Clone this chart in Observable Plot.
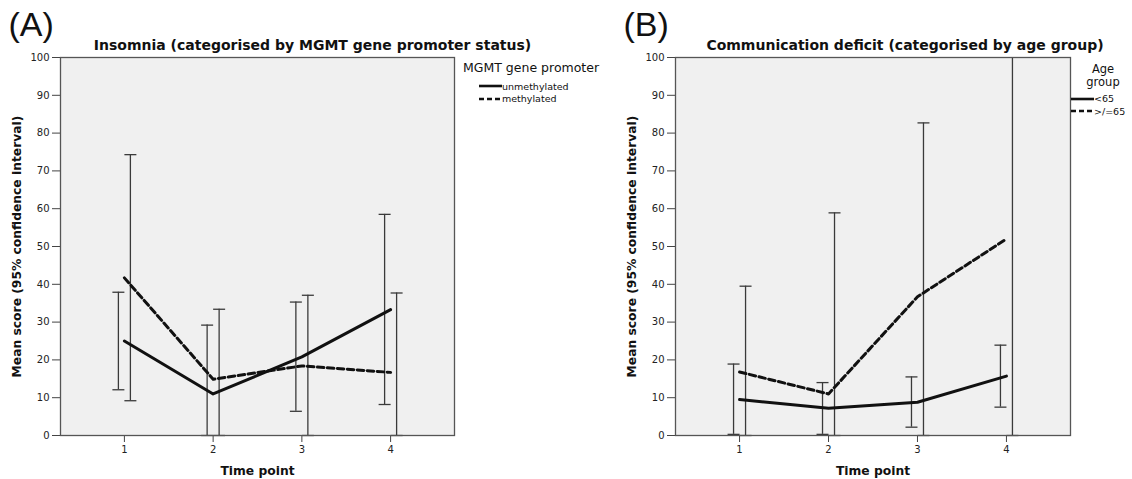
<!DOCTYPE html>
<html><head><meta charset="utf-8">
<script src="https://cdn.jsdelivr.net/npm/d3@7"></script>
<script src="https://cdn.jsdelivr.net/npm/@observablehq/plot@0.6"></script>
<style>
body{margin:0;background:#fff;}
#wrap{position:relative;width:1132px;height:479px;overflow:hidden;font-family:"DejaVu Sans",sans-serif;color:#111;}
#wrap svg{position:absolute;top:0;overflow:visible;background:transparent;}
.lg{position:absolute;white-space:nowrap;line-height:1;}
</style></head><body><div id="wrap"></div>
<script>
// ---------- data ----------
const timePoints = [1, 2, 3, 4];
const yTicks = [0, 10, 20, 30, 40, 50, 60, 70, 80, 90, 100];

// Panel A: Insomnia by MGMT gene promoter status
const aSeries = ["unmethylated", "methylated"];
const aUnmethMean = [25.0, 11.0, 20.8, 33.3];
const aUnmethLow  = [12.1, 0, 6.4, 8.2];
const aUnmethHigh = [37.9, 29.2, 35.3, 58.5];
const aMethMean   = [41.7, 14.9, 18.4, 16.7];
const aMethLow    = [9.2, 0, 0, 0];
const aMethHigh   = [74.3, 33.4, 37.1, 37.7];

// Panel B: Communication deficit by age group
const bSeries = ["<65", ">/=65"];
const bYoungMean = [9.5, 7.2, 8.8, 15.7];
const bYoungLow  = [0.3, 0.3, 2.2, 7.5];
const bYoungHigh = [18.9, 14.0, 15.5, 23.9];
const bOldMean   = [16.8, 11.0, 36.7, 52.0];
const bOldLow    = [0, 0, 0, 0];
const bOldHigh   = [39.5, 58.9, 82.7, 100]; // t4 runs off the top of the axis

const titleA = "Insomnia (categorised by MGMT gene promoter status)";
const titleB = "Communication deficit (categorised by age group)";
const yLabel = "Mean score (95% confidence interval)";
const xLabel = "Time point";

// ---------- helpers ----------
function rows(series, idx, means, lows, highs) {
  return timePoints.map((t, i) => ({series, idx, t, mean: means[i], lo: lows[i], hi: highs[i]}));
}
const capSymbol = {
  draw(ctx, size) { const w = Math.sqrt(size / Math.PI); ctx.moveTo(-w, 0); ctx.lineTo(w, 0); }
};
const BAR = "#3a3a3a";
const DASH = "6.5,3.5";

function panel({data, letter, title, titleDx, marginLeft, marginRight}) {
  const marks = [Plot.frame({fill: "#f0f0f0"})];
  for (const k of [0, 1]) {
    const d = data.filter(r => r.idx === k);
    const dx = k === 0 ? -6 : 6;
    marks.push(Plot.ruleX(d, {x: "t", y1: "lo", y2: "hi", dx, stroke: BAR, strokeWidth: 1.3, clip: true}));
    marks.push(Plot.dot(d.filter(r => r.hi < 100), {x: "t", y: "hi", dx, symbol: capSymbol, r: 6, stroke: BAR, strokeWidth: 1.3, fill: "none"}));
    marks.push(Plot.dot(d, {x: "t", y: "lo", dx, symbol: capSymbol, r: 6, stroke: BAR, strokeWidth: 1.3, fill: "none"}));
  }
  for (const k of [0, 1]) {
    const d = data.filter(r => r.idx === k);
    marks.push(Plot.line(d, {x: "t", y: "mean", stroke: "#111", strokeWidth: 3, strokeDasharray: k === 0 ? null : DASH}));
  }
  marks.push(
    Plot.axisY(yTicks, {tickSize: 8, tickPadding: 3, fontSize: 10, stroke: "#444", fill: "#222", label: null}),
    Plot.axisX(timePoints, {tickSize: 7, tickPadding: 3, fontSize: 10, stroke: "#444", fill: "#222", label: null, tickFormat: d => String(d)}),
    Plot.frame({stroke: "#555", strokeWidth: 1.3}),
    Plot.text([title], {text: d => d, frameAnchor: "top", lineAnchor: "middle", dx: titleDx, dy: -12, fontWeight: "bold", fontSize: 14, fill: "#111"}),
    Plot.text([letter], {text: d => d, frameAnchor: "top-left", textAnchor: "start", lineAnchor: "middle", dx: -52, dy: -32, fontSize: 34, fontFamily: "Liberation Sans", fill: "#111"}),
    Plot.text([yLabel], {text: d => d, frameAnchor: "left", textAnchor: "middle", lineAnchor: "middle", dx: -43, rotate: -90, fontWeight: "bold", fontSize: 12.3, fill: "#111"}),
    Plot.text([xLabel], {text: d => d, frameAnchor: "bottom", lineAnchor: "middle", dy: 36, fontWeight: "bold", fontSize: 12.3, fill: "#111"})
  );
  return Plot.plot({
    width: 566, height: 479,
    marginLeft, marginRight, marginTop: 57, marginBottom: 44,
    style: {fontFamily: "DejaVu Sans", background: "transparent", overflow: "visible"},
    x: {type: "linear", domain: [0.28, 4.72]},
    y: {domain: [0, 100]},
    marks
  });
}

const dataA = [
  ...rows(aSeries[0], 0, aUnmethMean, aUnmethLow, aUnmethHigh),
  ...rows(aSeries[1], 1, aMethMean, aMethLow, aMethHigh)
];
const dataB = [
  ...rows(bSeries[0], 0, bYoungMean, bYoungLow, bYoungHigh),
  ...rows(bSeries[1], 1, bOldMean, bOldLow, bOldHigh)
];

const wrap = document.getElementById("wrap");
const pA = panel({data: dataA, letter: "(A)", title: titleA, titleDx: 55, marginLeft: 60, marginRight: 112});
pA.style.left = "0px";
const pB = panel({data: dataB, letter: "(B)", title: titleB, titleDx: 32, marginLeft: 109, marginRight: 62});
pB.style.left = "566px";
wrap.appendChild(pA);
wrap.appendChild(pB);

// ---------- legends ----------
function legend(items, x, y, gap) {
  items.forEach((name, k) => {
    const div = document.createElement("div");
    div.className = "lg";
    div.style.left = x + "px";
    div.style.top = (y + k * gap - 6) + "px";
    div.style.fontSize = "9.5px";
    div.innerHTML = `<svg width="23" height="10" style="position:static;vertical-align:middle;overflow:visible"><line x1="0" x2="23" y1="5" y2="5" stroke="#111" stroke-width="2.6" ${k ? 'stroke-dasharray="5,3"' : ''}/></svg><span style="vertical-align:middle">${name}</span>`;
    wrap.appendChild(div);
  });
}
function title(text, x, y, center, size) {
  const div = document.createElement("div");
  div.className = "lg";
  div.style.fontSize = size + "px";
  div.style.top = (y - size / 2) + "px";
  if (center) { div.style.left = (x - 50) + "px"; div.style.width = "100px"; div.style.textAlign = "center"; }
  else div.style.left = x + "px";
  div.textContent = text;
  wrap.appendChild(div);
}
title("MGMT gene promoter", 463, 68, false, 12.5);
legend(aSeries, 479, 86.5, 12.6);
title("Age", 1103, 69.5, true, 11.5);
title("group", 1103, 83, true, 11.5);
legend(bSeries, 1071, 99.3, 12.4);
</script></body></html>
